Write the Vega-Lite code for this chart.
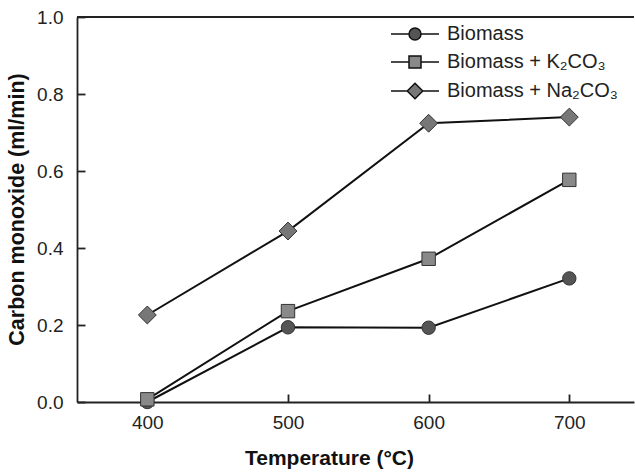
{
  "$schema": "https://vega.github.io/schema/vega-lite/v6.json",
  "autosize": {"type": "none"},
  "padding": {"left": 77, "top": 17, "right": 1, "bottom": 72},
  "width": 557,
  "height": 385,
  "background": "white",
  "config": {
    "view": {"stroke": null},
    "font": "Liberation Sans",
    "axis": {"grid": false, "domainColor": "#222", "domainWidth": 1.8, "ticks": true, "tickColor": "#222", "tickOpacity": 1, "tickWidth": 1.8, "labelColor": "#222", "titleColor": "#111", "labelFont": "Liberation Sans", "titleFont": "Liberation Sans"},
    "legend": {"symbolOpacity": 1}
  },
  "data": {
    "values": [
      {"series": "Biomass", "temp": 400, "co": 0.0},
      {"series": "Biomass", "temp": 500, "co": 0.194},
      {"series": "Biomass", "temp": 600, "co": 0.193},
      {"series": "Biomass", "temp": 700, "co": 0.321},
      {"series": "Biomass + K₂CO₃", "temp": 400, "co": 0.007},
      {"series": "Biomass + K₂CO₃", "temp": 500, "co": 0.236},
      {"series": "Biomass + K₂CO₃", "temp": 600, "co": 0.372},
      {"series": "Biomass + K₂CO₃", "temp": 700, "co": 0.577},
      {"series": "Biomass + Na₂CO₃", "temp": 400, "co": 0.226},
      {"series": "Biomass + Na₂CO₃", "temp": 500, "co": 0.444},
      {"series": "Biomass + Na₂CO₃", "temp": 600, "co": 0.724},
      {"series": "Biomass + Na₂CO₃", "temp": 700, "co": 0.740}
    ]
  },
  "encoding": {
    "x": {
      "field": "temp", "type": "quantitative",
      "scale": {"domain": [350, 746], "nice": false, "zero": false},
      "axis": {"values": [400, 500, 600, 700], "tickSize": -8, "labelPadding": 19, "labelFontSize": 19, "title": "Temperature (°C)", "titleFontSize": 21, "titleFontWeight": "bold", "titleX": 252, "titleY": 56, "titleBaseline": "middle", "titleAnchor": null, "titleAlign": "center"}
    },
    "y": {
      "field": "co", "type": "quantitative",
      "scale": {"domain": [0, 1], "nice": false},
      "axis": {"values": [0, 0.2, 0.4, 0.6, 0.8, 1.0], "format": ".1f", "tickSize": -8, "labelPadding": 22, "labelFontSize": 19, "title": "Carbon monoxide (ml/min)", "titleFontSize": 21.5, "titleFontWeight": "bold", "titleX": -60, "titleY": 192, "titleBaseline": "middle", "titleAlign": "center", "titleAngle": 270}
    }
  },
  "layer": [
    {
      "mark": {"type": "rule", "color": "#222", "strokeWidth": 1.8},
      "encoding": {"y": {"datum": 1.0}, "x": {"datum": 350}, "x2": {"datum": 746}}
    },
    {
      "mark": {"type": "line", "color": "#111", "strokeWidth": 2},
      "encoding": {"detail": {"field": "series"}}
    },
    {
      "mark": {"type": "point", "filled": true, "opacity": 0, "stroke": "#111", "strokeWidth": 1.5, "size": 144},
      "encoding": {
        "shape": {
          "field": "series", "type": "nominal",
          "scale": {"domain": ["Biomass", "Biomass + K₂CO₃", "Biomass + Na₂CO₃"], "range": ["M-4,0H-1M1,0H4M-1,0A1,1 0 1,0 1,0A1,1 0 1,0 -1,0Z", "M-4,0H-1M1,0H4M-1,-1H1V1H-1Z", "M-4,0H-1.3M1.3,0H4M-1.3,0L0,-1.3L1.3,0L0,1.3Z"]},
          "legend": {"title": null, "orient": "none", "legendX": 328, "legendY": 7, "labelFontSize": 20, "labelColor": "#222", "labelOffset": 22, "labelLimit": 400, "rowPadding": 8, "symbolSize": 144, "symbolOpacity": 1}
        },
        "fill": {
          "field": "series", "type": "nominal",
          "scale": {"domain": ["Biomass", "Biomass + K₂CO₃", "Biomass + Na₂CO₃"], "range": ["#555555", "#898989", "#777777"]}
        }
      }
    },
    {
      "transform": [{"filter": {"field": "series", "equal": "Biomass"}}],
      "mark": {"type": "point", "shape": "circle", "filled": true, "opacity": 1, "fill": "#555555", "stroke": "#333", "strokeWidth": 1, "size": 180}
    },
    {
      "transform": [{"filter": {"field": "series", "equal": "Biomass + K₂CO₃"}}],
      "mark": {"type": "point", "shape": "square", "filled": true, "opacity": 1, "fill": "#898989", "stroke": "#333", "strokeWidth": 1, "size": 180}
    },
    {
      "transform": [{"filter": {"field": "series", "equal": "Biomass + Na₂CO₃"}}],
      "mark": {"type": "point", "shape": "diamond", "filled": true, "opacity": 1, "fill": "#777777", "stroke": "#333", "strokeWidth": 1, "size": 320}
    }
  ]
}
